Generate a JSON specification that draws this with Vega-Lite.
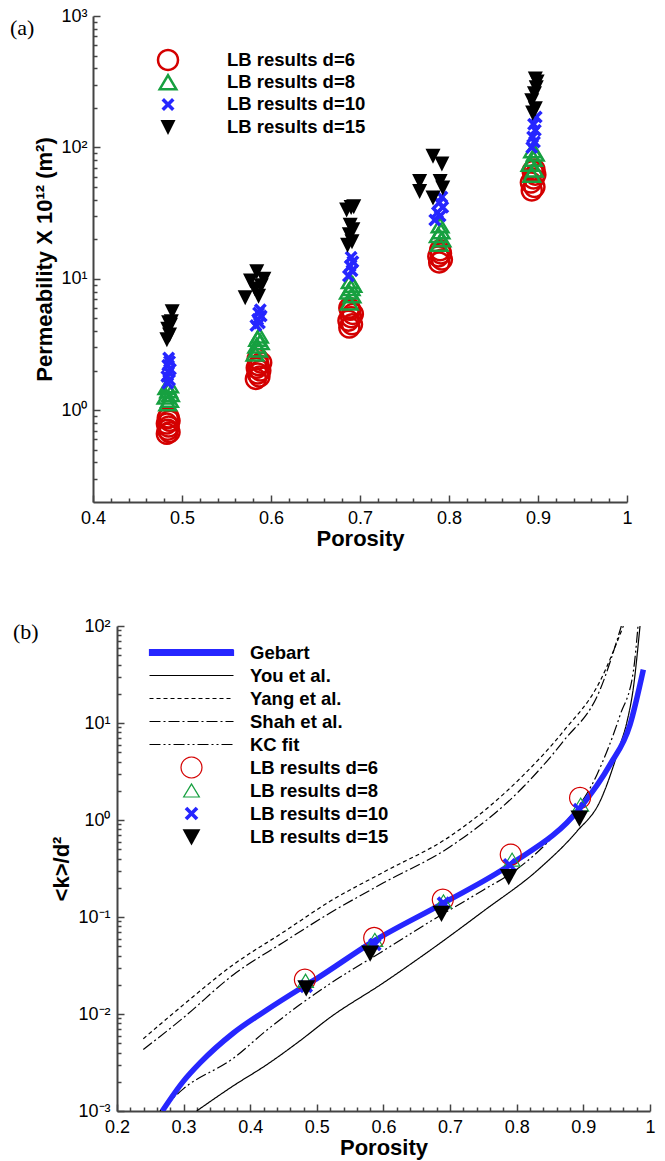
{
"$schema": "https://vega.github.io/schema/vega-lite/v6.json",
"padding": {"left": 10, "top": 7, "right": 5, "bottom": 5},
"config": {
  "view": {"stroke": null},
  "font": "Liberation Sans",
  "axis": {"grid": false, "labelFlush": false, "domainColor": "#444", "domainWidth": 2, "tickColor": "#444", "tickWidth": 1.5, "labelColor": "black", "labelFont": "Liberation Sans", "labelFontSize": 18, "titleFont": "Liberation Sans", "titleFontSize": 22, "titleFontWeight": "bold", "titleColor": "black"}
},
"resolve": {
  "scale": {"shape": "independent", "fill": "independent", "stroke": "independent", "strokeDash": "independent"},
  "legend": {"shape": "independent", "fill": "independent", "stroke": "independent", "strokeDash": "independent"}
},
"datasets": {
  "lbA": [
    {"p":0.483,"k":0.66,"s":"LB results d=6"},{"p":0.486,"k":0.68,"s":"LB results d=6"},{"p":0.484,"k":0.71,"s":"LB results d=6"},{"p":0.485,"k":0.75,"s":"LB results d=6"},{"p":0.483,"k":0.79,"s":"LB results d=6"},{"p":0.486,"k":0.83,"s":"LB results d=6"},{"p":0.484,"k":0.87,"s":"LB results d=6"},{"p":0.485,"k":0.88,"s":"LB results d=6"},
    {"p":0.583,"k":1.73,"s":"LB results d=6"},{"p":0.587,"k":1.8,"s":"LB results d=6"},{"p":0.585,"k":1.9,"s":"LB results d=6"},{"p":0.588,"k":2.0,"s":"LB results d=6"},{"p":0.584,"k":2.1,"s":"LB results d=6"},{"p":0.586,"k":2.2,"s":"LB results d=6"},{"p":0.589,"k":2.3,"s":"LB results d=6"},{"p":0.585,"k":2.45,"s":"LB results d=6"},
    {"p":0.688,"k":4.25,"s":"LB results d=6"},{"p":0.691,"k":4.5,"s":"LB results d=6"},{"p":0.687,"k":4.8,"s":"LB results d=6"},{"p":0.690,"k":5.1,"s":"LB results d=6"},{"p":0.692,"k":5.4,"s":"LB results d=6"},{"p":0.689,"k":5.8,"s":"LB results d=6"},{"p":0.688,"k":6.0,"s":"LB results d=6"},
    {"p":0.789,"k":13.3,"s":"LB results d=6"},{"p":0.792,"k":14.0,"s":"LB results d=6"},{"p":0.788,"k":14.8,"s":"LB results d=6"},{"p":0.791,"k":15.6,"s":"LB results d=6"},{"p":0.790,"k":16.5,"s":"LB results d=6"},
    {"p":0.893,"k":47,"s":"LB results d=6"},{"p":0.896,"k":50,"s":"LB results d=6"},{"p":0.892,"k":54,"s":"LB results d=6"},{"p":0.895,"k":58,"s":"LB results d=6"},{"p":0.897,"k":62,"s":"LB results d=6"},{"p":0.894,"k":66,"s":"LB results d=6"},{"p":0.896,"k":68,"s":"LB results d=6"},
    {"p":0.484,"k":1.13,"s":"LB results d=8"},{"p":0.486,"k":1.2,"s":"LB results d=8"},{"p":0.482,"k":1.27,"s":"LB results d=8"},{"p":0.487,"k":1.33,"s":"LB results d=8"},{"p":0.485,"k":1.42,"s":"LB results d=8"},{"p":0.483,"k":1.5,"s":"LB results d=8"},{"p":0.486,"k":1.55,"s":"LB results d=8"},
    {"p":0.582,"k":2.7,"s":"LB results d=8"},{"p":0.586,"k":2.9,"s":"LB results d=8"},{"p":0.584,"k":3.1,"s":"LB results d=8"},{"p":0.588,"k":3.3,"s":"LB results d=8"},{"p":0.585,"k":3.5,"s":"LB results d=8"},{"p":0.587,"k":3.7,"s":"LB results d=8"},
    {"p":0.688,"k":6.6,"s":"LB results d=8"},{"p":0.691,"k":7.5,"s":"LB results d=8"},{"p":0.687,"k":8.0,"s":"LB results d=8"},{"p":0.690,"k":8.5,"s":"LB results d=8"},{"p":0.692,"k":9.0,"s":"LB results d=8"},{"p":0.689,"k":9.6,"s":"LB results d=8"},
    {"p":0.789,"k":18.5,"s":"LB results d=8"},{"p":0.792,"k":20,"s":"LB results d=8"},{"p":0.788,"k":21.5,"s":"LB results d=8"},{"p":0.791,"k":23,"s":"LB results d=8"},{"p":0.790,"k":25.5,"s":"LB results d=8"},
    {"p":0.893,"k":62,"s":"LB results d=8"},{"p":0.896,"k":68,"s":"LB results d=8"},{"p":0.891,"k":75,"s":"LB results d=8"},{"p":0.895,"k":82,"s":"LB results d=8"},{"p":0.897,"k":90,"s":"LB results d=8"},{"p":0.894,"k":95,"s":"LB results d=8"},
    {"p":0.484,"k":1.6,"s":"LB results d=10"},{"p":0.486,"k":1.7,"s":"LB results d=10"},{"p":0.483,"k":1.8,"s":"LB results d=10"},{"p":0.485,"k":1.95,"s":"LB results d=10"},{"p":0.487,"k":2.05,"s":"LB results d=10"},{"p":0.484,"k":2.2,"s":"LB results d=10"},{"p":0.486,"k":2.35,"s":"LB results d=10"},{"p":0.485,"k":2.5,"s":"LB results d=10"},
    {"p":0.583,"k":4.4,"s":"LB results d=10"},{"p":0.587,"k":4.6,"s":"LB results d=10"},{"p":0.585,"k":4.9,"s":"LB results d=10"},{"p":0.589,"k":5.2,"s":"LB results d=10"},{"p":0.586,"k":5.5,"s":"LB results d=10"},{"p":0.588,"k":5.8,"s":"LB results d=10"},
    {"p":0.687,"k":10.5,"s":"LB results d=10"},{"p":0.691,"k":11.5,"s":"LB results d=10"},{"p":0.689,"k":12.5,"s":"LB results d=10"},{"p":0.692,"k":13.5,"s":"LB results d=10"},{"p":0.690,"k":14.6,"s":"LB results d=10"},
    {"p":0.784,"k":28,"s":"LB results d=10"},{"p":0.790,"k":30,"s":"LB results d=10"},{"p":0.787,"k":32,"s":"LB results d=10"},{"p":0.793,"k":35,"s":"LB results d=10"},{"p":0.789,"k":38,"s":"LB results d=10"},{"p":0.792,"k":42,"s":"LB results d=10"},
    {"p":0.893,"k":100,"s":"LB results d=10"},{"p":0.896,"k":110,"s":"LB results d=10"},{"p":0.894,"k":120,"s":"LB results d=10"},{"p":0.897,"k":135,"s":"LB results d=10"},{"p":0.895,"k":150,"s":"LB results d=10"},{"p":0.898,"k":170,"s":"LB results d=10"},
    {"p":0.483,"k":3.5,"s":"LB results d=15"},{"p":0.486,"k":3.8,"s":"LB results d=15"},{"p":0.484,"k":4.2,"s":"LB results d=15"},{"p":0.487,"k":4.5,"s":"LB results d=15"},{"p":0.485,"k":4.7,"s":"LB results d=15"},{"p":0.488,"k":4.8,"s":"LB results d=15"},{"p":0.489,"k":5.7,"s":"LB results d=15"},
    {"p":0.571,"k":7.3,"s":"LB results d=15"},{"p":0.586,"k":7.5,"s":"LB results d=15"},{"p":0.582,"k":8.5,"s":"LB results d=15"},{"p":0.589,"k":9.0,"s":"LB results d=15"},{"p":0.577,"k":9.8,"s":"LB results d=15"},{"p":0.592,"k":10.1,"s":"LB results d=15"},{"p":0.584,"k":11.5,"s":"LB results d=15"},
    {"p":0.686,"k":18.3,"s":"LB results d=15"},{"p":0.691,"k":19.5,"s":"LB results d=15"},{"p":0.688,"k":22,"s":"LB results d=15"},{"p":0.692,"k":24,"s":"LB results d=15"},{"p":0.689,"k":26,"s":"LB results d=15"},{"p":0.685,"k":34,"s":"LB results d=15"},{"p":0.690,"k":35.5,"s":"LB results d=15"},{"p":0.693,"k":36,"s":"LB results d=15"},
    {"p":0.767,"k":47,"s":"LB results d=15"},{"p":0.767,"k":56,"s":"LB results d=15"},{"p":0.782,"k":42,"s":"LB results d=15"},{"p":0.793,"k":50,"s":"LB results d=15"},{"p":0.790,"k":56,"s":"LB results d=15"},{"p":0.792,"k":76,"s":"LB results d=15"},{"p":0.782,"k":87,"s":"LB results d=15"},
    {"p":0.894,"k":186,"s":"LB results d=15"},{"p":0.897,"k":200,"s":"LB results d=15"},{"p":0.893,"k":230,"s":"LB results d=15"},{"p":0.896,"k":260,"s":"LB results d=15"},{"p":0.898,"k":290,"s":"LB results d=15"},{"p":0.899,"k":320,"s":"LB results d=15"},{"p":0.897,"k":337,"s":"LB results d=15"}
  ],
  "curves": [
    {"p":0.2395,"v":0.00556,"s":"Yang et al."},{"p":0.3,"v":0.0125,"s":"Yang et al."},{"p":0.3747,"v":0.0323,"s":"Yang et al."},{"p":0.45,"v":0.07,"s":"Yang et al."},{"p":0.5197,"v":0.145,"s":"Yang et al."},{"p":0.6,"v":0.29,"s":"Yang et al."},{"p":0.7,"v":0.68,"s":"Yang et al."},{"p":0.81,"v":2.9,"s":"Yang et al."},{"p":0.87,"v":8.2,"s":"Yang et al."},{"p":0.925,"v":27,"s":"Yang et al."},{"p":0.96,"v":100,"s":"Yang et al."},
    {"p":0.2395,"v":0.0043,"s":"Shah et al."},{"p":0.3,"v":0.0092,"s":"Shah et al."},{"p":0.3747,"v":0.0254,"s":"Shah et al."},{"p":0.45,"v":0.055,"s":"Shah et al."},{"p":0.5197,"v":0.11,"s":"Shah et al."},{"p":0.6,"v":0.225,"s":"Shah et al."},{"p":0.7,"v":0.53,"s":"Shah et al."},{"p":0.81,"v":2.2,"s":"Shah et al."},{"p":0.87,"v":6.5,"s":"Shah et al."},{"p":0.925,"v":22,"s":"Shah et al."},{"p":0.957,"v":100,"s":"Shah et al."},
    {"p":0.3196,"v":0.001,"s":"You et al."},{"p":0.3747,"v":0.00182,"s":"You et al."},{"p":0.4247,"v":0.003,"s":"You et al."},{"p":0.4747,"v":0.0053,"s":"You et al."},{"p":0.5197,"v":0.0092,"s":"You et al."},{"p":0.6,"v":0.021,"s":"You et al."},{"p":0.6748,"v":0.0479,"s":"You et al."},{"p":0.75,"v":0.115,"s":"You et al."},{"p":0.835,"v":0.32,"s":"You et al."},{"p":0.89,"v":0.76,"s":"You et al."},{"p":0.925,"v":1.56,"s":"You et al."},{"p":0.955,"v":5.9,"s":"You et al."},{"p":0.965,"v":10,"s":"You et al."},{"p":0.975,"v":23,"s":"You et al."},{"p":0.985,"v":100,"s":"You et al."},
    {"p":0.2645,"v":0.001,"s":"KC fit"},{"p":0.3,"v":0.0017,"s":"KC fit"},{"p":0.3747,"v":0.0035,"s":"KC fit"},{"p":0.4247,"v":0.0068,"s":"KC fit"},{"p":0.4747,"v":0.0125,"s":"KC fit"},{"p":0.5197,"v":0.0205,"s":"KC fit"},{"p":0.6,"v":0.045,"s":"KC fit"},{"p":0.6748,"v":0.094,"s":"KC fit"},{"p":0.75,"v":0.19,"s":"KC fit"},{"p":0.8,"v":0.31,"s":"KC fit"},{"p":0.86,"v":0.75,"s":"KC fit"},{"p":0.92,"v":2.9,"s":"KC fit"},{"p":0.955,"v":12,"s":"KC fit"},{"p":0.975,"v":34,"s":"KC fit"},{"p":0.982,"v":100,"s":"KC fit"},
    {"p":0.268,"v":0.001,"s":"Gebart"},{"p":0.2995,"v":0.00202,"s":"Gebart"},{"p":0.3246,"v":0.00313,"s":"Gebart"},{"p":0.3747,"v":0.00637,"s":"Gebart"},{"p":0.4247,"v":0.011,"s":"Gebart"},{"p":0.4747,"v":0.0182,"s":"Gebart"},{"p":0.4997,"v":0.0232,"s":"Gebart"},{"p":0.5847,"v":0.0561,"s":"Gebart"},{"p":0.6898,"v":0.139,"s":"Gebart"},{"p":0.7899,"v":0.346,"s":"Gebart"},{"p":0.895,"v":1.33,"s":"Gebart"},{"p":0.94,"v":3.72,"s":"Gebart"},{"p":0.97,"v":9.6,"s":"Gebart"},{"p":0.99,"v":35.5,"s":"Gebart"}
  ],
  "lbB": [
    {"p":0.482,"v":0.0226,"s":"LB results d=6"},{"p":0.586,"v":0.0608,"s":"LB results d=6"},{"p":0.689,"v":0.151,"s":"LB results d=6"},{"p":0.791,"v":0.44,"s":"LB results d=6"},{"p":0.895,"v":1.69,"s":"LB results d=6"},
    {"p":0.483,"v":0.022,"s":"LB results d=8"},{"p":0.587,"v":0.058,"s":"LB results d=8"},{"p":0.690,"v":0.145,"s":"LB results d=8"},{"p":0.793,"v":0.39,"s":"LB results d=8"},{"p":0.896,"v":1.44,"s":"LB results d=8"},
    {"p":0.484,"v":0.0193,"s":"LB results d=10"},{"p":0.587,"v":0.052,"s":"LB results d=10"},{"p":0.690,"v":0.139,"s":"LB results d=10"},{"p":0.789,"v":0.346,"s":"LB results d=10"},{"p":0.894,"v":1.28,"s":"LB results d=10"},
    {"p":0.484,"v":0.0187,"s":"LB results d=15"},{"p":0.580,"v":0.0426,"s":"LB results d=15"},{"p":0.687,"v":0.11,"s":"LB results d=15"},{"p":0.788,"v":0.262,"s":"LB results d=15"},{"p":0.894,"v":1.05,"s":"LB results d=15"}
  ]
},
"concat": [
  {
    "width": 534, "height": 486,
    "title": {"text": "(a)", "anchor": "start", "frame": "group", "orient": "top", "font": "Liberation Serif", "fontSize": 22, "fontWeight": "normal", "color": "black", "dx": -83, "offset": 0, "baseline": "alphabetic", "dy": 50},
    "data": {"name": "lbA"},
    "resolve": {"axis": {"x": "independent", "y": "independent"}},
    "encoding": {
      "x": {"field": "p", "type": "quantitative", "scale": {"domain": [0.4, 1], "nice": false, "zero": false}},
      "y": {"field": "k", "type": "quantitative", "scale": {"type": "log", "domain": [0.2, 1000], "nice": false}},
      "shape": {"field": "s", "type": "nominal", "scale": {"domain": ["LB results d=6", "LB results d=8", "LB results d=10", "LB results d=15"], "range": [
          "M1.125,0L1.087,0.291L0.974,0.563L0.795,0.795L0.563,0.974L0.291,1.087L0,1.125L-0.291,1.087L-0.563,0.974L-0.795,0.795L-0.974,0.563L-1.087,0.291L-1.125,0L-1.087,-0.291L-0.974,-0.563L-0.795,-0.795L-0.563,-0.974L-0.291,-1.087L0,-1.125L0.291,-1.087L0.563,-0.974L0.795,-0.795L0.974,-0.563L1.087,-0.291ZM0.875,0L0.845,-0.226L0.758,-0.438L0.619,-0.619L0.438,-0.758L0.226,-0.845L0,-0.875L-0.226,-0.845L-0.438,-0.758L-0.619,-0.619L-0.758,-0.438L-0.845,-0.226L-0.875,0L-0.845,0.226L-0.758,0.438L-0.619,0.619L-0.438,0.758L-0.226,0.845L0,0.875L0.226,0.845L0.438,0.758L0.619,0.619L0.758,0.438L0.845,0.226Z",
          "M0,-0.945L1.049,0.825L-1.049,0.825ZM0,-0.455L-0.611,0.575L0.611,0.575Z",
          "M-0.4,-0.65L0,-0.25L0.4,-0.65L0.65,-0.4L0.25,0L0.65,0.4L0.4,0.65L0,0.25L-0.4,0.65L-0.65,0.4L-0.25,0L-0.65,-0.4Z",
          "M-0.75,-0.65L0.75,-0.65L0,0.85Z"]},
        "legend": {"orient": "none", "legendX": 65, "legendY": 34, "title": null, "symbolSize": 400, "symbolStrokeWidth": 0, "symbolStrokeColor": "transparent", "labelFontSize": 18.5, "labelFontWeight": "bold", "labelFont": "Liberation Sans", "labelColor": "black", "labelOffset": 49, "rowPadding": 0.2, "gridAlign": "all", "labelLimit": 300, "padding": 0}},
      "fill": {"field": "s", "type": "nominal", "scale": {"domain": ["LB results d=6", "LB results d=8", "LB results d=10", "LB results d=15"], "range": ["#d40000", "#17a040", "#2626ff", "black"]},
        "legend": {"orient": "none", "legendX": 65, "legendY": 34, "title": null, "symbolSize": 400, "symbolStrokeWidth": 0, "symbolStrokeColor": "transparent", "labelFontSize": 18.5, "labelFontWeight": "bold", "labelFont": "Liberation Sans", "labelColor": "black", "labelOffset": 49, "rowPadding": 0.2, "gridAlign": "all", "labelLimit": 300, "padding": 0}}
    },
    "layer": [
      {
        "transform": [{"filter": "datum.s == 'LB results d=6' || datum.s == 'LB results d=8'"}],
        "mark": {"type": "point", "size": 400, "filled": true, "strokeWidth": 0, "opacity": 1},
        "encoding": {
          "x": {"field": "p", "type": "quantitative", "title": "Porosity", "axis": {"orient": "bottom", "values": [0.4, 0.5, 0.6, 0.7, 0.8, 0.9, 1], "labelExpr": "datum.value > 0.99 ? '1' : format(datum.value, '.1f')", "tickSize": -7, "labelPadding": 14, "titlePadding": 1}},
          "y": {"field": "k", "type": "quantitative", "title": "Permeability X 10¹²    (m²)", "axis": {"orient": "left", "values": [1, 10, 100, 1000], "labelExpr": "datum.value == 1000 ? '10³' : datum.value == 100 ? '10²' : datum.value == 10 ? '10¹' : '10⁰'", "tickSize": -7, "labelPadding": 13, "titlePadding": 4}}
        }
      },
      {
        "transform": [{"filter": "datum.s == 'LB results d=10' || datum.s == 'LB results d=15'"}],
        "mark": {"type": "point", "size": 400, "filled": true, "strokeWidth": 0, "opacity": 1},
        "encoding": {
          "x": {"field": "p", "type": "quantitative", "axis": {"orient": "bottom", "values": [0.42, 0.44, 0.46, 0.48, 0.52, 0.54, 0.56, 0.58, 0.62, 0.64, 0.66, 0.68, 0.72, 0.74, 0.76, 0.78, 0.82, 0.84, 0.86, 0.88, 0.92, 0.94, 0.96, 0.98], "labels": false, "domain": false, "tickSize": -4, "title": null}},
          "y": {"field": "k", "type": "quantitative", "axis": {"orient": "left", "values": [0.3, 0.4, 0.5, 0.6, 0.7, 0.8, 0.9, 2, 3, 4, 5, 6, 7, 8, 9, 20, 30, 40, 50, 60, 70, 80, 90, 200, 300, 400, 500, 600, 700, 800, 900], "labels": false, "domain": false, "tickSize": -4, "title": null}}
        }
      }
    ]
  },
  {
    "width": 557, "height": 485,
    "title": {"text": "(b)", "anchor": "start", "frame": "group", "orient": "top", "font": "Liberation Serif", "fontSize": 22, "fontWeight": "normal", "color": "black", "dx": -80, "offset": 0, "baseline": "alphabetic", "dy": 44},
    "resolve": {"axis": {"x": "independent", "y": "independent"}},
    "layer": [
      {
        "data": {"name": "curves"},
        "transform": [{"filter": "datum.s != 'Gebart'"}],
        "mark": {"type": "line", "strokeWidth": 1.2, "interpolate": "monotone", "clip": true},
        "encoding": {
          "x": {"field": "p", "type": "quantitative", "title": "Porosity", "scale": {"domain": [0.2, 1], "range": [24, 557], "nice": false, "zero": false}, "axis": {"orient": "bottom", "values": [0.2, 0.3, 0.4, 0.5, 0.6, 0.7, 0.8, 0.9, 1], "labelExpr": "datum.value > 0.99 ? '1' : format(datum.value, '.1f')", "tickSize": -7, "labelPadding": 14, "titlePadding": 1}},
          "y": {"field": "v", "type": "quantitative", "title": "<k>/d²", "scale": {"type": "log", "domain": [0.001, 100], "nice": false}, "axis": {"orient": "left", "offset": -24, "values": [0.001, 0.01, 0.1, 1, 10, 100], "labelExpr": "datum.value == 100 ? '10²' : datum.value == 10 ? '10¹' : datum.value == 1 ? '10⁰' : datum.value == 0.1 ? '10⁻¹' : datum.value == 0.01 ? '10⁻²' : '10⁻³'", "tickSize": -7, "labelPadding": 14, "titlePadding": 4}},
          "detail": {"field": "s", "type": "nominal"},
          "stroke": {"field": "s", "type": "nominal", "scale": {"domain": ["Gebart", "You et al.", "Yang et al.", "Shah et al.", "KC fit", "LB results d=6", "LB results d=8", "LB results d=10", "LB results d=15"], "range": ["#2626ff", "black", "black", "black", "black", null, null, null, null]},
            "legend": {"orient": "none", "legendX": 87, "legendY": 15, "title": null, "symbolSize": 441, "symbolStrokeWidth": 1.2, "labelFontSize": 18.5, "labelFontWeight": "bold", "labelFont": "Liberation Sans", "labelColor": "black", "labelOffset": 47, "rowPadding": 0, "gridAlign": "all", "labelLimit": 300, "padding": 0}},
          "strokeDash": {"field": "s", "type": "nominal", "scale": {"domain": ["Gebart", "You et al.", "Yang et al.", "Shah et al.", "KC fit", "LB results d=6", "LB results d=8", "LB results d=10", "LB results d=15"], "range": [[1, 0], [1, 0], [4, 3], [11, 3, 2, 3], [11, 3, 2, 3, 2, 3], [1, 0], [1, 0], [1, 0], [1, 0]]},
            "legend": {"orient": "none", "legendX": 87, "legendY": 15, "title": null, "symbolSize": 441, "symbolStrokeWidth": 1.2, "labelFontSize": 18.5, "labelFontWeight": "bold", "labelFont": "Liberation Sans", "labelColor": "black", "labelOffset": 47, "rowPadding": 0, "gridAlign": "all", "labelLimit": 300, "padding": 0}}
        }
      },
      {
        "data": {"name": "curves"},
        "transform": [{"filter": "datum.s == 'Gebart'"}],
        "mark": {"type": "line", "strokeWidth": 5.5, "interpolate": "monotone", "clip": true},
        "encoding": {
          "x": {"field": "p", "type": "quantitative", "axis": null},
          "y": {"field": "v", "type": "quantitative", "axis": null},
          "stroke": {"field": "s", "type": "nominal", "legend": {"orient": "none", "legendX": 87, "legendY": 15, "title": null, "symbolSize": 441, "symbolStrokeWidth": 1.2, "labelFontSize": 18.5, "labelFontWeight": "bold", "labelFont": "Liberation Sans", "labelColor": "black", "labelOffset": 47, "rowPadding": 0, "gridAlign": "all", "labelLimit": 300, "padding": 0}}
        }
      },
      {
        "data": {"name": "lbB"},
        "mark": {"type": "point", "size": 441, "filled": true, "strokeWidth": 1.2, "opacity": 1},
        "encoding": {
          "x": {"field": "p", "type": "quantitative", "axis": {"orient": "bottom", "values": [0.22, 0.24, 0.26, 0.28, 0.32, 0.34, 0.36, 0.38, 0.42, 0.44, 0.46, 0.48, 0.52, 0.54, 0.56, 0.58, 0.62, 0.64, 0.66, 0.68, 0.72, 0.74, 0.76, 0.78, 0.82, 0.84, 0.86, 0.88, 0.92, 0.94, 0.96, 0.98], "labels": false, "domain": false, "tickSize": -4, "title": null}},
          "y": {"field": "v", "type": "quantitative", "axis": {"orient": "left", "offset": -24, "values": [0.002, 0.003, 0.004, 0.005, 0.006, 0.007, 0.008, 0.009, 0.02, 0.03, 0.04, 0.05, 0.06, 0.07, 0.08, 0.09, 0.2, 0.3, 0.4, 0.5, 0.6, 0.7, 0.8, 0.9, 2, 3, 4, 5, 6, 7, 8, 9, 20, 30, 40, 50, 60, 70, 80, 90], "labels": false, "domain": false, "tickSize": -4, "title": null}},
          "shape": {"field": "s", "type": "nominal", "scale": {"domain": ["Gebart", "You et al.", "Yang et al.", "Shah et al.", "KC fit", "LB results d=6", "LB results d=8", "LB results d=10", "LB results d=15"], "range": [
              "M-4,-0.27H4V0.27H-4Z", "M-4,0H4", "M-4,0H4", "M-4,0H4", "M-4,0H4",
              "M1.057,0L1.021,0.274L0.915,0.529L0.747,0.747L0.529,0.915L0.274,1.021L0,1.057L-0.274,1.021L-0.529,0.915L-0.747,0.747L-0.915,0.529L-1.021,0.274L-1.057,0L-1.021,-0.274L-0.915,-0.529L-0.747,-0.747L-0.529,-0.915L-0.274,-1.021L0,-1.057L0.274,-1.021L0.529,-0.915L0.747,-0.747L0.915,-0.529L1.021,-0.274ZM0.943,0L0.911,-0.244L0.817,-0.472L0.667,-0.667L0.472,-0.817L0.244,-0.911L0,-0.943L-0.244,-0.911L-0.472,-0.817L-0.667,-0.667L-0.817,-0.472L-0.911,-0.244L-0.943,0L-0.911,0.244L-0.817,0.472L-0.667,0.667L-0.472,0.817L-0.244,0.911L0,0.943L0.244,0.911L0.472,0.817L0.667,0.667L0.817,0.472L0.911,0.244Z",
              "M0,-0.730L0.851,0.677L-0.851,0.677ZM0,-0.510L-0.649,0.563L0.649,0.563Z",
              "M-0.4,-0.65L0,-0.24L0.4,-0.65L0.65,-0.4L0.24,0L0.65,0.4L0.4,0.65L0,0.24L-0.4,0.65L-0.65,0.4L-0.24,0L-0.65,-0.4Z",
              "M-0.85,-0.7L0.85,-0.7L0,0.85Z"]},
            "legend": {"orient": "none", "legendX": 87, "legendY": 15, "title": null, "symbolSize": 441, "symbolStrokeWidth": 1.2, "labelFontSize": 18.5, "labelFontWeight": "bold", "labelFont": "Liberation Sans", "labelColor": "black", "labelOffset": 47, "rowPadding": 0, "gridAlign": "all", "labelLimit": 300, "padding": 0}},
          "fill": {"field": "s", "type": "nominal", "scale": {"domain": ["Gebart", "You et al.", "Yang et al.", "Shah et al.", "KC fit", "LB results d=6", "LB results d=8", "LB results d=10", "LB results d=15"], "range": ["#2626ff", "transparent", "transparent", "transparent", "transparent", "#d40000", "#17a040", "#2626ff", "black"]},
            "legend": {"orient": "none", "legendX": 87, "legendY": 15, "title": null, "symbolSize": 441, "symbolStrokeWidth": 1.2, "labelFontSize": 18.5, "labelFontWeight": "bold", "labelFont": "Liberation Sans", "labelColor": "black", "labelOffset": 47, "rowPadding": 0, "gridAlign": "all", "labelLimit": 300, "padding": 0}},
          "stroke": {"field": "s", "type": "nominal", "legend": {"orient": "none", "legendX": 87, "legendY": 15, "title": null, "symbolSize": 441, "symbolStrokeWidth": 1.2, "labelFontSize": 18.5, "labelFontWeight": "bold", "labelFont": "Liberation Sans", "labelColor": "black", "labelOffset": 47, "rowPadding": 0, "gridAlign": "all", "labelLimit": 300, "padding": 0}}
        }
      }
    ]
  }
],
"columns": 1,
"align": "none",
"spacing": 68
}
